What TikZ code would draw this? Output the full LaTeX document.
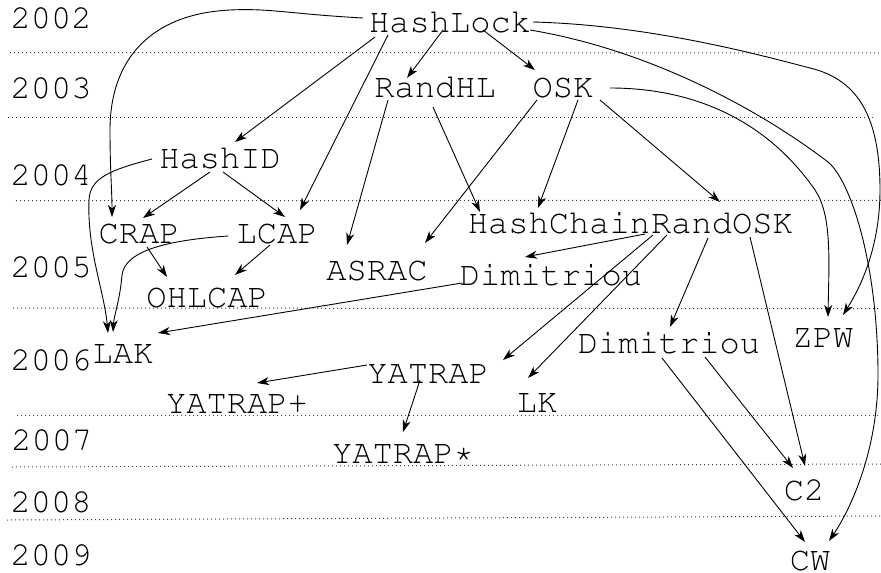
\documentclass[tikz,border=0pt]{standalone}
\usepackage[T1]{fontenc}
\usepackage{courier}
\usetikzlibrary{arrows.meta,calc}
\newcommand\mylbfont{\ttfamily\fontsize{33.75}{36}\selectfont}
\tikzset{
  lbl/.style={font=\mylbfont, inner sep=0pt, anchor=base},
  arr/.style={-{Stealth[length=12pt,width=8pt,inset=3.5pt]}, line width=0.9pt},
  yearline/.style={line width=1pt, black!75, dash pattern=on 1.2pt off 2.8pt}
}
\begin{document}
\begin{tikzpicture}[x=1pt,y=-1pt]
\useasboundingbox (0,0) rectangle (881,573);
% year separators
\draw[yearline] (10,52.5) -- (881,53);
\draw[yearline] (8,117.3) -- (873,117.3);
\draw[yearline] (16,200.7) -- (881,200.3);
\draw[yearline] (13,308) -- (881,308.7);
\draw[yearline] (17,415) -- (881,415);
\draw[yearline] (12,467) -- (881,464);
\draw[yearline] (7,520) -- (881,516);
% years
\node[lbl] (y2002) at (51,28) {2002};
\node[lbl] (y2003) at (51,98) {2003};
\node[lbl] (y2004) at (51,185) {2004};
\node[lbl] (y2005) at (51,277) {2005};
\node[lbl] (y2006) at (51,370) {2006};
\node[lbl] (y2007) at (52,450) {2007};
\node[lbl] (y2008) at (51,512) {2008};
\node[lbl] (y2009) at (51,565) {2009};
% schemes
\node[lbl] (HashLock) at (450,32) {HashLock};
\node[lbl] (RandHL) at (435,97) {RandHL};
\node[lbl] (OSK) at (563,97) {OSK};
\node[lbl] (HashID) at (220,168) {HashID};
\node[lbl] (CRAP) at (139,243) {CRAP};
\node[lbl] (LCAP) at (277,243) {LCAP};
\node[lbl] (OHLCAP) at (207,307) {OHLCAP};
\node[lbl] (ASRAC) at (377,280) {ASRAC};
\node[lbl] (HashChain) at (559,233) {HashChain};
\node[lbl] (RandOSK) at (722,233) {RandOSK};
\node[lbl] (DimA) at (551,285) {Dimitriou};
\node[lbl] (DimB) at (669,353) {Dimitriou};
\node[lbl] (ZPW) at (823,347) {ZPW};
\node[lbl] (LAK) at (123,363) {LAK};
\node[lbl] (YATRAP) at (428,383) {YATRAP};
\node[lbl] (YATRAPp) at (237,413) {YATRAP+};
\node[lbl] (YATRAPs) at (403,463) {YATRAP*};
\node[lbl] (LK) at (537,412) {LK};
\node[lbl] (C2) at (804,500) {C2};
\node[lbl] (CW) at (810,570) {CW};
% connectors
\draw[arr] ($(HashLock.base)+(-87,-14)$) .. controls (290,14) and (270,8) .. (230,10)
   .. controls (150,14) and (110,60) .. (110,130) .. controls (110,170) and (112,190) .. ($(CRAP.base)+(-27,-26)$);
\draw[arr] ($(HashLock.base)+(-75,5)$) -- ($(HashID.base)+(15,-26)$);
\draw[arr] ($(HashLock.base)+(-62,3)$) -- ($(LCAP.base)+(23,-33)$);
\draw[arr] ($(HashLock.base)+(-7,-2)$) -- ($(RandHL.base)+(-28,-19)$);
\draw[arr] ($(HashLock.base)+(33,-2)$) -- ($(OSK.base)+(-28,-27)$);
\draw[arr] ($(HashLock.base)+(83,-10)$) .. controls (650,25) and (760,55) .. (810,68)
   .. controls (860,80) and (880,120) .. (880,190) .. controls (880,240) and (865,280) .. ($(ZPW.base)+(20,-32)$);
\draw[arr] ($(HashLock.base)+(80,-2)$) .. controls (650,50) and (760,110) .. (828,162)
   .. controls (850,180) and (877,260) .. (878,370) .. controls (879,450) and (850,510) .. ($(CW.base)+(19,-29)$);
\draw[arr] ($(OSK.base)+(47,-9)$) .. controls (700,88) and (770,125) .. (815,190)
   .. controls (832,215) and (829,260) .. ($(ZPW.base)+(5,-30)$);
\draw[arr] ($(RandHL.base)+(-47,3)$) -- ($(ASRAC.base)+(-30,-35)$);
\draw[arr] ($(RandHL.base)+(-2,10)$) -- ($(HashChain.base)+(-79,-21)$);
\draw[arr] ($(OSK.base)+(-26,3)$) -- ($(ASRAC.base)+(48,-37)$);
\draw[arr] ($(OSK.base)+(15,3)$) -- ($(HashChain.base)+(-21,-25)$);
\draw[arr] ($(OSK.base)+(37,3)$) -- ($(RandOSK.base)+(-2,-31)$);
\draw[arr] ($(HashChain.base)+(86,1)$) -- ($(DimA.base)+(-26,-28)$);
\draw[arr] ($(RandOSK.base)+(-69,2)$) -- ($(YATRAP.base)+(75,-23)$);
\draw[arr] ($(RandOSK.base)+(-55,2)$) -- ($(LK.base)+(-9,-34)$);
\draw[arr] ($(RandOSK.base)+(-14,5)$) -- ($(DimB.base)+(1,-26)$);
\draw[arr] ($(RandOSK.base)+(28,4)$) -- ($(C2.base)+(1,-34)$);
\draw[arr] ($(DimA.base)+(-89,-2)$) -- ($(LAK.base)+(35,-30)$);
\draw[arr] ($(HashID.base)+(-10,4)$) -- ($(CRAP.base)+(4,-25)$);
\draw[arr] ($(HashID.base)+(3,4)$) -- ($(LCAP.base)+(8,-26)$);
\draw[arr] ($(CRAP.base)+(8,4)$) -- ($(OHLCAP.base)+(-40,-30)$);
\draw[arr] ($(LCAP.base)+(-7,2)$) -- ($(OHLCAP.base)+(28,-32)$);
\draw[arr] ($(HashID.base)+(-68,-9)$) .. controls (110,170) and (90,178) .. (89,200)
   .. controls (87,250) and (104,290) .. ($(LAK.base)+(-15,-30)$);
\draw[arr] ($(LCAP.base)+(-49,-7)$) .. controls (170,240) and (125,250) .. (122,275)
   .. controls (120,300) and (114,315) .. ($(LAK.base)+(-10,-31)$);
\draw[arr] ($(YATRAP.base)+(-61,-18)$) -- ($(YATRAPp.base)+(20,-30)$);
\draw[arr] ($(YATRAP.base)+(-8,-3)$) -- ($(YATRAPs.base)+(0,-31)$);
\draw[arr] ($(DimB.base)+(36,4)$) -- ($(C2.base)+(-11,-32)$);
\draw[arr] ($(DimB.base)+(-7,5)$) -- ($(CW.base)+(-5,-28)$);
\end{tikzpicture}
\end{document}
